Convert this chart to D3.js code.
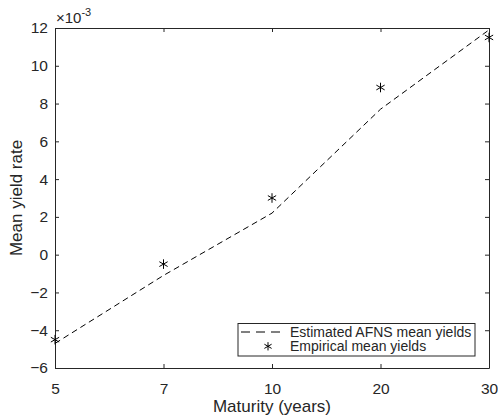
<!DOCTYPE html>
<html>
<head>
<meta charset="utf-8">
<script src="https://cdn.jsdelivr.net/npm/d3@7"></script>
<style>
  body { margin: 0; background: #fff; }
  text { font-family: "Liberation Sans", Arial, sans-serif; fill: #262626; }
</style>
</head>
<body>
<div id="chart"></div>
<script>
// maturities (years), plotted at equally spaced positions
const maturities = ["5", "7", "10", "20", "30"];
// mean yields, in units of 1e-3
const estimated = [-4.7, -1.1, 2.2, 7.7, 11.9];
const empirical = [-4.5, -0.5, 3.0, 8.85, 11.5];
const yTicks = [-6, -4, -2, 0, 2, 4, 6, 8, 10, 12];

const margin = { top: 28, right: 9, bottom: 47, left: 55 },
    width = 498 - margin.left - margin.right,
    height = 415 - margin.top - margin.bottom;

const svg = d3.select("#chart")
    .append("svg")
    .attr("width", 498)
    .attr("height", 415)
    .append("g")
    .attr("transform", `translate(${margin.left}, ${margin.top})`);

const x = d3.scalePoint()
    .domain(maturities)
    .range([0, width]);

const y = d3.scaleLinear()
    .domain([-6, 12])
    .range([height, 0]);

const axisColor = "#262626";
const tickLen = 4;

// axes (MATLAB style, ticks pointing inward, box on)
const xAxis = svg.append("g")
    .attr("transform", `translate(0, ${height})`)
    .call(d3.axisBottom(x).tickSizeInner(-tickLen).tickSizeOuter(0).tickPadding(15));
const xTop = svg.append("g")
    .call(d3.axisTop(x).tickSizeInner(-tickLen).tickSizeOuter(0).tickFormat(""));
const yAxis = svg.append("g")
    .call(d3.axisLeft(y).tickValues(yTicks).tickSizeInner(-tickLen).tickSizeOuter(0).tickPadding(7));
const yRight = svg.append("g")
    .attr("transform", `translate(${width}, 0)`)
    .call(d3.axisRight(y).tickValues(yTicks).tickSizeInner(-tickLen).tickSizeOuter(0).tickFormat(""));

[xAxis, xTop, yAxis, yRight].forEach(a => {
    a.attr("font-size", null).attr("font-family", null);
    a.selectAll("path").attr("stroke", axisColor).attr("stroke-width", 1);
    a.selectAll("line").attr("stroke", axisColor).attr("stroke-width", 1);
    a.selectAll("text")
        .style("font-size", "15.5px")
        .attr("fill", axisColor);
});

// exponent label
const expo = svg.append("text")
    .attr("x", 1)
    .attr("y", -5)
    .style("font-size", "15px");
expo.append("tspan").text("\u00d710");
expo.append("tspan").attr("dy", -7).style("font-size", "11px").text("-3");

// axis labels
svg.append("text")
    .attr("text-anchor", "middle")
    .attr("x", width / 2)
    .attr("y", height + 44)
    .style("font-size", "17px")
    .text("Maturity (years)");

svg.append("text")
    .attr("text-anchor", "middle")
    .attr("transform", "rotate(-90)")
    .attr("x", -height / 2)
    .attr("y", -33.5)
    .style("font-size", "17px")
    .text("Mean yield rate");

// estimated line
const line = d3.line()
    .x((d, i) => x(maturities[i]))
    .y(d => y(d));

svg.append("path")
    .datum(estimated)
    .attr("fill", "none")
    .attr("stroke", "#000")
    .attr("stroke-width", 1)
    .attr("stroke-dasharray", "6,4")
    .attr("d", line);

// empirical points
const star = d3.symbol().type(d3.symbolAsterisk).size(64);
svg.selectAll(".pt")
    .data(empirical)
    .enter()
    .append("path")
    .attr("class", "pt")
    .attr("transform", (d, i) => `translate(${x(maturities[i])}, ${y(d)})`)
    .attr("d", star)
    .attr("fill", "none")
    .attr("stroke", "#000")
    .attr("stroke-width", 1);

// legend
const lg = svg.append("g")
    .attr("transform", `translate(${183}, ${295.5})`);
lg.append("rect")
    .attr("width", 237)
    .attr("height", 32.5)
    .attr("fill", "#fff")
    .attr("stroke", axisColor)
    .attr("stroke-width", 1);
lg.append("line")
    .attr("x1", 3).attr("x2", 48)
    .attr("y1", 8.5).attr("y2", 8.5)
    .attr("stroke", "#000")
    .attr("stroke-dasharray", "9,6");
lg.append("path")
    .attr("transform", "translate(30, 22.8)")
    .attr("d", d3.symbol().type(d3.symbolAsterisk).size(48))
    .attr("fill", "none")
    .attr("stroke", "#000");
lg.append("text")
    .attr("x", 52).attr("y", 13.5)
    .style("font-size", "14px")
    .text("Estimated AFNS mean yields");
lg.append("text")
    .attr("x", 52).attr("y", 27.8)
    .style("font-size", "14px")
    .text("Empirical mean yields");
</script>
</body>
</html>
